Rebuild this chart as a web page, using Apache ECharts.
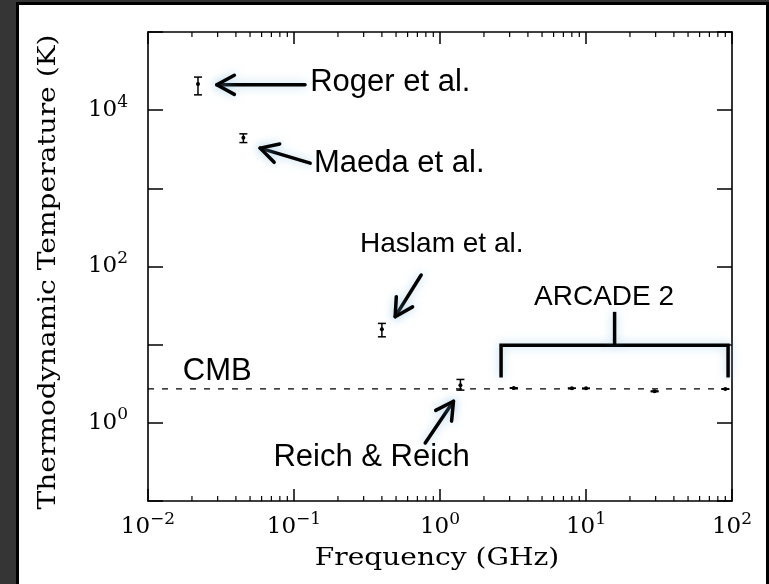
<!DOCTYPE html>
<html><head><meta charset="utf-8">
<script src="https://cdn.jsdelivr.net/npm/echarts@6/dist/echarts.min.js"></script>
<style>
html,body{margin:0;padding:0;background:#353535;width:769px;height:584px;overflow:hidden}
#panel{position:absolute;left:16px;top:2px;width:747px;height:640px;background:#fff;border:3px solid #000}
#chart{position:absolute;left:0;top:0;width:769px;height:584px}
</style></head><body>
<div id="panel"></div><div id="chart"></div>
<script>
// ---- data ----
const X_MINOR_TICKS = [0.02,0.03,0.04,0.05,0.06,0.07,0.08,0.09,
  0.2,0.3,0.4,0.5,0.6,0.7,0.8,0.9, 2,3,4,5,6,7,8,9, 20,30,40,50,60,70,80,90];
const Y_LABEL_EXPONENTS = [0, 2, 4];

const SURVEY_NAMES = ['Roger et al.', 'Maeda et al.', 'Haslam et al.', 'Reich & Reich'];
const SURVEY_FREQ = [0.022, 0.045, 0.40, 1.38];
const SURVEY_T = [21600, 4430, 15.7, 3.03];
const SURVEY_T_LO = [15700, 3850, 12.6, 2.62];
const SURVEY_T_HI = [26500, 4980, 18.7, 3.59];

const ARCADE_FREQ = [3.2, 8.0, 10.0, 29.5, 90];
const ARCADE_T = [2.79, 2.77, 2.76, 2.53, 2.71];
const ARCADE_T_LO = [2.77, 2.76, 2.75, 2.50, 2.69];
const ARCADE_T_HI = [2.81, 2.78, 2.77, 2.56, 2.73];

const CMB_T = 2.725;
const CMB_RANGE = [0.01, 100];

// annotation arrows: [tailX, tailY, tipX, tipY] (data coords)
const ARROWS = [
  [0.119, 21100, 0.0296, 21100],
  [0.129, 2100, 0.0586, 3270],
  [0.743, 77.8, 0.493, 22.8],
  [0.792, 0.553, 1.237, 1.89]
];
// ARCADE 2 bracket (data coords)
const BRACKET_X = [2.62, 94];
const BRACKET_Y = [3.80, 9.86];
const BRACKET_STEM = [15.7, 26.3];

const LABEL_TEXT = ['Roger et al.', 'Maeda et al.', 'Haslam et al.', 'ARCADE 2', 'CMB', 'Reich & Reich'];
const LABEL_X = [0.129, 0.137, 3.73, 13.3, 0.0173, 0.0723];
const LABEL_Y = [22400, 2060, 194, 40.6, 4.58, 0.366];
const LABEL_ALIGN = ['left', 'left', 'right', 'center', 'left', 'left'];
const LABEL_SIZE = [31, 31, 28, 28, 31, 31];

// ---- chart ----
const chart = echarts.init(document.getElementById('chart'), null, {renderer: 'canvas'});
const SERIF = '"DejaVu Serif", serif';
const SANS = '"Liberation Sans", Arial, sans-serif';
const GLOW = {shadowBlur: 10, shadowColor: 'rgba(110,175,220,0.55)'};

function supLabel(v) {
  const e = Math.round(Math.log10(v));
  return '{b|10}{s|' + (e < 0 ? '\u2212' + (-e) : e) + '}';
}
const rich = {
  b: {fontFamily: SERIF, fontSize: 23, color: '#000'},
  s: {fontFamily: SERIF, fontSize: 17, color: '#000', padding: [0, 0, 16, 0]}
};
const axisLineStyle = {color: '#000', width: 1.6};

function errBar(params, api) {
  const x = api.value(0);
  const c = api.coord([x, api.value(1)]);
  const lo = api.coord([x, api.value(2)]);
  const hi = api.coord([x, api.value(3)]);
  const w = 4, st = {stroke: '#000', lineWidth: 1.5};
  return {type: 'group', children: [
    {type: 'line', shape: {x1: c[0], y1: lo[1], x2: c[0], y2: hi[1]}, style: st},
    {type: 'line', shape: {x1: c[0] - w, y1: lo[1], x2: c[0] + w, y2: lo[1]}, style: st},
    {type: 'line', shape: {x1: c[0] - w, y1: hi[1], x2: c[0] + w, y2: hi[1]}, style: st},
    {type: 'circle', shape: {cx: c[0], cy: c[1], r: 2}, style: {fill: '#000'}}
  ]};
}

function arrowItem(params, api) {
  const a = api.coord([api.value(0), api.value(1)]);
  const b = api.coord([api.value(2), api.value(3)]);
  const ang = Math.atan2(b[1] - a[1], b[0] - a[0]);
  const L = 20, spread = 0.5;
  const p1 = [b[0] - L * Math.cos(ang - spread), b[1] - L * Math.sin(ang - spread)];
  const p2 = [b[0] - L * Math.cos(ang + spread), b[1] - L * Math.sin(ang + spread)];
  const st = Object.assign({stroke: '#000', lineWidth: 3.5, lineCap: 'round', lineJoin: 'round', fill: null}, GLOW);
  return {type: 'group', children: [
    {type: 'line', shape: {x1: a[0], y1: a[1], x2: b[0], y2: b[1]}, style: st},
    {type: 'polyline', shape: {points: [p1, b, p2]}, style: st}
  ]};
}

function bracketItem(params, api) {
  const p00 = api.coord([BRACKET_X[0], BRACKET_Y[0]]);
  const p01 = api.coord([BRACKET_X[0], BRACKET_Y[1]]);
  const p11 = api.coord([BRACKET_X[1], BRACKET_Y[1]]);
  const p10 = api.coord([BRACKET_X[1], BRACKET_Y[0]]);
  const s0 = api.coord([BRACKET_STEM[0], BRACKET_Y[1]]);
  const s1 = api.coord([BRACKET_STEM[0], BRACKET_STEM[1]]);
  const st = Object.assign({stroke: '#000', lineWidth: 3.5, fill: null, lineJoin: 'miter'}, GLOW);
  return {type: 'group', children: [
    {type: 'polyline', shape: {points: [p00, p01, p11, p10]}, style: st},
    {type: 'line', shape: {x1: s0[0], y1: s0[1], x2: s1[0], y2: s1[1]}, style: st}
  ]};
}

function labelItem(params, api) {
  const p = api.coord([api.value(0), api.value(1)]);
  const i = params.dataIndex;
  return {type: 'text', x: p[0], y: p[1],
    style: {text: LABEL_TEXT[i], fill: '#000', font: LABEL_SIZE[i] + 'px ' + SANS,
      align: LABEL_ALIGN[i], verticalAlign: 'middle'}};
}

function minorTickItem(params, api) {
  const v = api.value(0);
  const pb = api.coord([v, 0.1]);
  const pt = api.coord([v, 1e5]);
  const st = {stroke: '#000', lineWidth: 1.2};
  return {type: 'group', children: [
    {type: 'line', shape: {x1: pb[0], y1: pb[1], x2: pb[0], y2: pb[1] - 5}, style: st},
    {type: 'line', shape: {x1: pt[0], y1: pt[1], x2: pt[0], y2: pt[1] + 5}, style: st}
  ]};
}

const xCommon = {type: 'log', logBase: 10, min: 0.01, max: 100, splitLine: {show: false},
  axisLine: {show: true, lineStyle: axisLineStyle},
  axisTick: {show: true, inside: true, length: 12, lineStyle: {color: '#000', width: 1.5}}};
const yCommon = {type: 'log', logBase: 10, min: 0.1, max: 1e5, splitLine: {show: false},
  axisLine: {show: true, lineStyle: axisLineStyle},
  axisTick: {show: true, inside: true, length: 15, lineStyle: {color: '#000', width: 1.5}}};

chart.setOption({
  animation: false,
  backgroundColor: 'transparent',
  grid: {left: 148, right: 37, top: 32, bottom: 83, containLabel: false},
  xAxis: [
    Object.assign({}, xCommon, {position: 'bottom',
      axisLabel: {show: true, margin: 10, formatter: supLabel, rich: rich}}),
    Object.assign({}, xCommon, {position: 'top', axisLabel: {show: false}})
  ],
  yAxis: [
    Object.assign({}, yCommon, {position: 'left',
      axisLabel: {show: true, margin: 20, rich: rich, formatter: function (v) {
        const e = Math.round(Math.log10(v));
        return Y_LABEL_EXPONENTS.indexOf(e) >= 0 ? supLabel(v) : '';
      }}}),
    Object.assign({}, yCommon, {position: 'right', axisLabel: {show: false}})
  ],
  graphic: [
    {type: 'text', x: 437, y: 559, scaleX: 1.17,
      style: {text: 'Frequency (GHz)', font: '24px ' + SERIF, fill: '#000',
        align: 'center', verticalAlign: 'middle', textAlign: 'center', textVerticalAlign: 'middle'}},
    {type: 'text', x: 49, y: 272, rotation: Math.PI / 2, scaleX: 1.17,
      style: {text: 'Thermodynamic Temperature (K)', font: '24px ' + SERIF, fill: '#000',
        align: 'center', verticalAlign: 'middle', textAlign: 'center', textVerticalAlign: 'middle'}}
  ],
  series: [
    {type: 'custom', name: 'minor ticks', renderItem: minorTickItem, silent: true,
      data: X_MINOR_TICKS.map(v => [v, 1])},
    {type: 'line', name: 'CMB', symbol: 'none', silent: true,
      lineStyle: {color: '#000', width: 1.2, type: [6, 8]},
      data: CMB_RANGE.map(x => [x, CMB_T])},
    {type: 'custom', name: 'surveys', renderItem: errBar,
      data: SURVEY_FREQ.map((f, i) => [f, SURVEY_T[i], SURVEY_T_LO[i], SURVEY_T_HI[i]])},
    {type: 'custom', name: 'ARCADE 2', renderItem: errBar,
      data: ARCADE_FREQ.map((f, i) => [f, ARCADE_T[i], ARCADE_T_LO[i], ARCADE_T_HI[i]])},
    {type: 'custom', name: 'arrows', renderItem: arrowItem, silent: true, data: ARROWS},
    {type: 'custom', name: 'bracket', renderItem: bracketItem, silent: true, data: [[BRACKET_X[0], BRACKET_Y[0]]]},
    {type: 'custom', name: 'labels', renderItem: labelItem, silent: true,
      data: LABEL_X.map((x, i) => [x, LABEL_Y[i]])}
  ]
});
</script>
</body></html>
